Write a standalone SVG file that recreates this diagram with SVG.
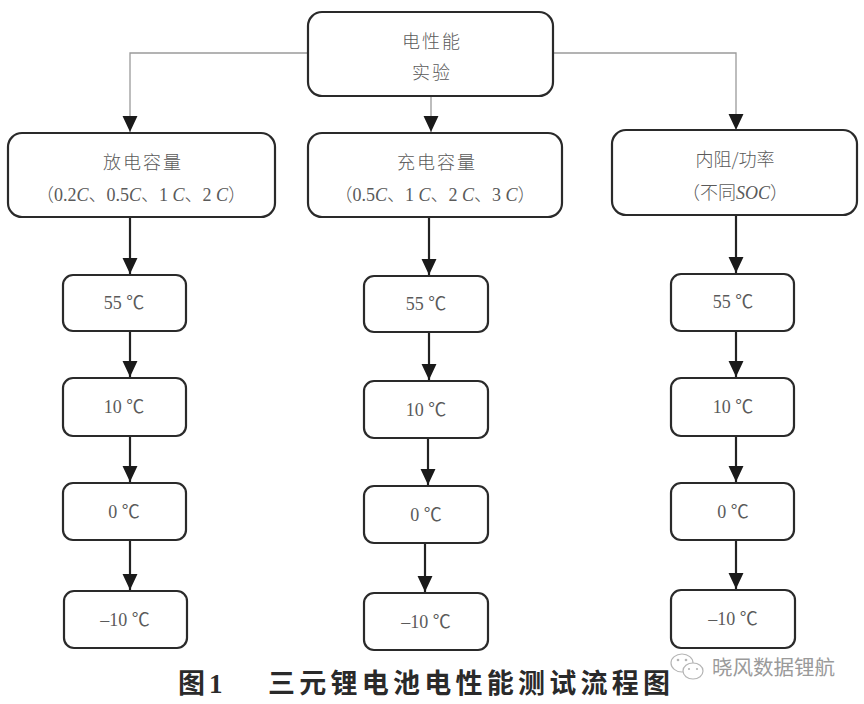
<svg xmlns="http://www.w3.org/2000/svg" width="864" height="704" viewBox="0 0 864 704">
<defs>
<style>
.box{fill:#fff;stroke:#2a2a2a;stroke-width:2.2}
.t{font-family:"Liberation Serif","Noto Sans CJK SC",serif;font-size:18px;fill:#5a5a5a;text-anchor:middle}
.cj{font-family:"Noto Sans CJK SC",sans-serif;font-weight:300}
.sp{letter-spacing:2px}
.i{font-style:italic}
.thin{fill:none;stroke:#9a9a9a;stroke-width:1.3}
.thick{fill:none;stroke:#222;stroke-width:2.2}
.cap{font-family:"Noto Sans CJK SC",sans-serif;font-weight:700;font-size:27px;fill:#2a2a2a}
.wm{font-family:"Noto Sans CJK SC",sans-serif;font-size:20px;fill:#9a9a9a}
</style>
<marker id="ah" markerUnits="userSpaceOnUse" markerWidth="16" markerHeight="16" refX="15" refY="7" orient="auto" viewBox="0 0 15 14">
<path d="M0,0 L15,7 L0,14 Z" fill="#1a1a1a"/>
</marker>
</defs>
<rect width="864" height="704" fill="#fff"/>

<g id="connectors">
<path class="thin" d="M308,53 H130 V132" marker-end="url(#ah)"/>
<path class="thin" d="M553,53 H736 V130" marker-end="url(#ah)"/>
<path class="thin" d="M431,96 V132" marker-end="url(#ah)"/>

<path class="thick" d="M130,217 V274" marker-end="url(#ah)"/>
<path class="thick" d="M130,331 V377" marker-end="url(#ah)"/>
<path class="thick" d="M130,436 V482" marker-end="url(#ah)"/>
<path class="thick" d="M130,540 V590" marker-end="url(#ah)"/>

<path class="thick" d="M429,217 V275" marker-end="url(#ah)"/>
<path class="thick" d="M429,332 V380" marker-end="url(#ah)"/>
<path class="thick" d="M428,438 V485" marker-end="url(#ah)"/>
<path class="thick" d="M425,543 V592" marker-end="url(#ah)"/>

<path class="thick" d="M736,215 V273" marker-end="url(#ah)"/>
<path class="thick" d="M736,331 V377" marker-end="url(#ah)"/>
<path class="thick" d="M736,436 V482" marker-end="url(#ah)"/>
<path class="thick" d="M736,540 V589" marker-end="url(#ah)"/>
</g>

<g id="top">
<rect class="box" x="308" y="12" width="245" height="84" rx="14"/>
<text class="t cj sp" x="432" y="48">电性能</text>
<text class="t cj sp" x="432" y="79">实验</text>
</g>

<g id="discharge">
<rect class="box" x="8" y="133" width="267" height="84" rx="14"/>
<text class="t cj sp" x="143" y="169">放电容量</text>
<text class="t" x="141" y="201"><tspan class="cj">（</tspan>0.2<tspan class="i">C</tspan><tspan class="cj">、</tspan>0.5<tspan class="i">C</tspan><tspan class="cj">、</tspan>1 <tspan class="i">C</tspan><tspan class="cj">、</tspan>2 <tspan class="i">C</tspan><tspan class="cj">）</tspan></text>
</g>

<g id="charge">
<rect class="box" x="308" y="133" width="254" height="84" rx="14"/>
<text class="t cj sp" x="437" y="169">充电容量</text>
<text class="t" x="435" y="201"><tspan class="cj">（</tspan>0.5<tspan class="i">C</tspan><tspan class="cj">、</tspan>1 <tspan class="i">C</tspan><tspan class="cj">、</tspan>2 <tspan class="i">C</tspan><tspan class="cj">、</tspan>3 <tspan class="i">C</tspan><tspan class="cj">）</tspan></text>
</g>

<g id="resistance">
<rect class="box" x="612" y="130" width="245" height="85" rx="14"/>
<text class="t cj" x="735" y="166">内阻/功率</text>
<text class="t" x="735" y="199"><tspan class="cj">（不同</tspan><tspan class="i">SOC</tspan><tspan class="cj">）</tspan></text>
</g>

<g id="L55"><rect class="box" x="63" y="275" width="123" height="56" rx="10"/><text class="t" x="124" y="309">55 ℃</text></g>
<g id="L10"><rect class="box" x="63" y="378" width="123" height="58" rx="10"/><text class="t" x="124" y="413">10 ℃</text></g>
<g id="L0"><rect class="box" x="63" y="483" width="123" height="57" rx="10"/><text class="t" x="124" y="518">0 ℃</text></g>
<g id="Lm10"><rect class="box" x="64" y="591" width="123" height="57" rx="10"/><text class="t" x="125" y="626">–10 ℃</text></g>

<g id="M55"><rect class="box" x="364" y="276" width="124" height="56" rx="10"/><text class="t" x="426" y="310">55 ℃</text></g>
<g id="M10"><rect class="box" x="364" y="381" width="124" height="57" rx="10"/><text class="t" x="426" y="416">10 ℃</text></g>
<g id="M0"><rect class="box" x="364" y="486" width="124" height="57" rx="10"/><text class="t" x="426" y="521">0 ℃</text></g>
<g id="Mm10"><rect class="box" x="364" y="593" width="124" height="57" rx="10"/><text class="t" x="426" y="628">–10 ℃</text></g>

<g id="R55"><rect class="box" x="671" y="274" width="123" height="57" rx="10"/><text class="t" x="733" y="308">55 ℃</text></g>
<g id="R10"><rect class="box" x="671" y="378" width="123" height="58" rx="10"/><text class="t" x="733" y="413">10 ℃</text></g>
<g id="R0"><rect class="box" x="671" y="483" width="123" height="57" rx="10"/><text class="t" x="733" y="518">0 ℃</text></g>
<g id="Rm10"><rect class="box" x="671" y="590" width="124" height="58" rx="10"/><text class="t" x="733" y="625">–10 ℃</text></g>

<g id="caption">
<text class="cap" x="178" y="693">图<tspan font-family="Liberation Serif,serif" dx="4">1</tspan></text>
<text class="cap" x="268" y="693" textLength="402" lengthAdjust="spacing">三元锂电池电性能测试流程图</text>
</g>

<g id="watermark">
<ellipse cx="682" cy="663" rx="11" ry="9" fill="none" stroke="#b5b5b5" stroke-width="1.2"/>
<ellipse cx="693" cy="671" rx="10" ry="8" fill="#fff" stroke="#b5b5b5" stroke-width="1.2"/>
<circle cx="678" cy="660" r="1.3" fill="#b5b5b5"/>
<circle cx="686" cy="660" r="1.3" fill="#b5b5b5"/>
<circle cx="689" cy="669" r="1.1" fill="#b5b5b5"/>
<circle cx="697" cy="669" r="1.1" fill="#b5b5b5"/>
<text class="wm" x="712" y="675" textLength="123" lengthAdjust="spacingAndGlyphs">晓风数据锂航</text>
</g>
</svg>
